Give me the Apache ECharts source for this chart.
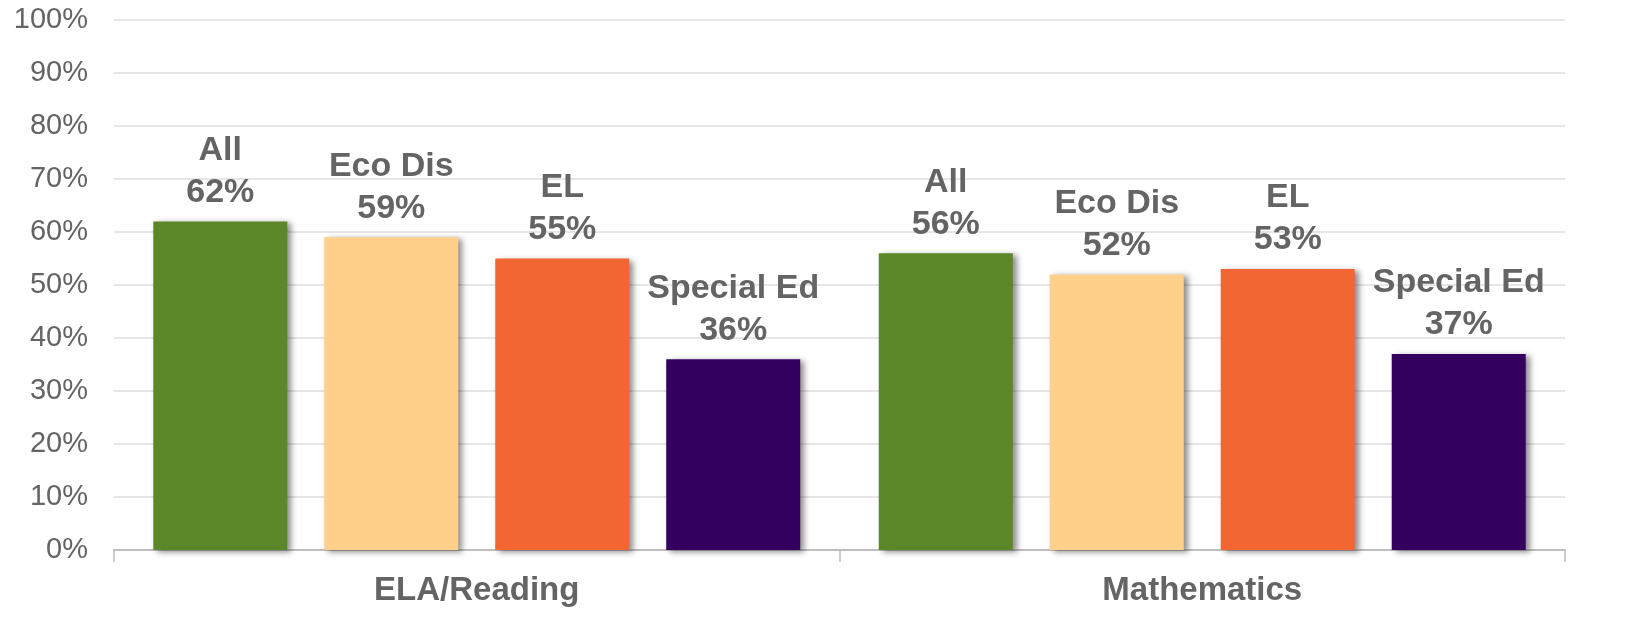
<!DOCTYPE html>
<html>
<head>
<meta charset="utf-8">
<script src="https://cdn.jsdelivr.net/npm/echarts@6/dist/echarts.min.js"></script>
<style>
html,body{margin:0;padding:0;background:#fff;}
#chart{width:1649px;height:641px;}
</style>
</head>
<body>
<div id="chart"></div>
<script>
const categories = ['ELA/Reading', 'Mathematics'];
const seriesNames = ['All', 'Eco Dis', 'EL', 'Special Ed'];
const allValues = [62, 56];
const ecoDisValues = [59, 52];
const elValues = [55, 53];
const specialEdValues = [36, 37];
const yTicks = [0, 10, 20, 30, 40, 50, 60, 70, 80, 90, 100];
const colors = ['#5c8729', '#fed08b', '#f26633', '#330060'];

const dataSets = [allValues, ecoDisValues, elValues, specialEdValues];
const chart = echarts.init(document.getElementById('chart'));
const font = '"Liberation Sans", Arial, sans-serif';

const series = seriesNames.map((name, i) => ({
  name: name,
  type: 'bar',
  data: dataSets[i],
  barWidth: 134,
  barGap: '27.6%',
  itemStyle: {
    color: colors[i],
    shadowColor: 'rgba(0,0,0,0.45)',
    shadowBlur: 6,
    shadowOffsetX: 4,
    shadowOffsetY: 2
  },
  label: {
    show: true,
    position: 'top',
    distance: 8,
    formatter: p => p.seriesName + '\n' + p.value + '%',
    fontFamily: font,
    fontWeight: 'bold',
    fontSize: 34,
    lineHeight: 42,
    color: '#646464'
  }
}));

chart.setOption({
  animation: false,
  backgroundColor: '#fff',
  grid: { left: 114, right: 84, top: 20, bottom: 91, containLabel: false },
  xAxis: {
    type: 'category',
    data: categories,
    axisLine: { lineStyle: { color: '#bfbfbf', width: 2 } },
    axisTick: { show: true, length: 12, lineStyle: { color: '#bfbfbf', width: 1.5 } },
    axisLabel: {
      margin: 24,
      fontFamily: font,
      fontWeight: 'bold',
      fontSize: 33,
      color: '#646464'
    }
  },
  yAxis: {
    type: 'value',
    min: yTicks[0],
    max: yTicks[yTicks.length - 1],
    interval: 10,
    axisLine: { show: false },
    axisTick: { show: false },
    splitLine: { lineStyle: { color: '#dedede', width: 1.5 } },
    axisLabel: {
      margin: 26,
      formatter: '{value}%',
      fontFamily: font,
      fontSize: 29,
      color: '#646464'
    }
  },
  series: series
});
</script>
</body>
</html>
